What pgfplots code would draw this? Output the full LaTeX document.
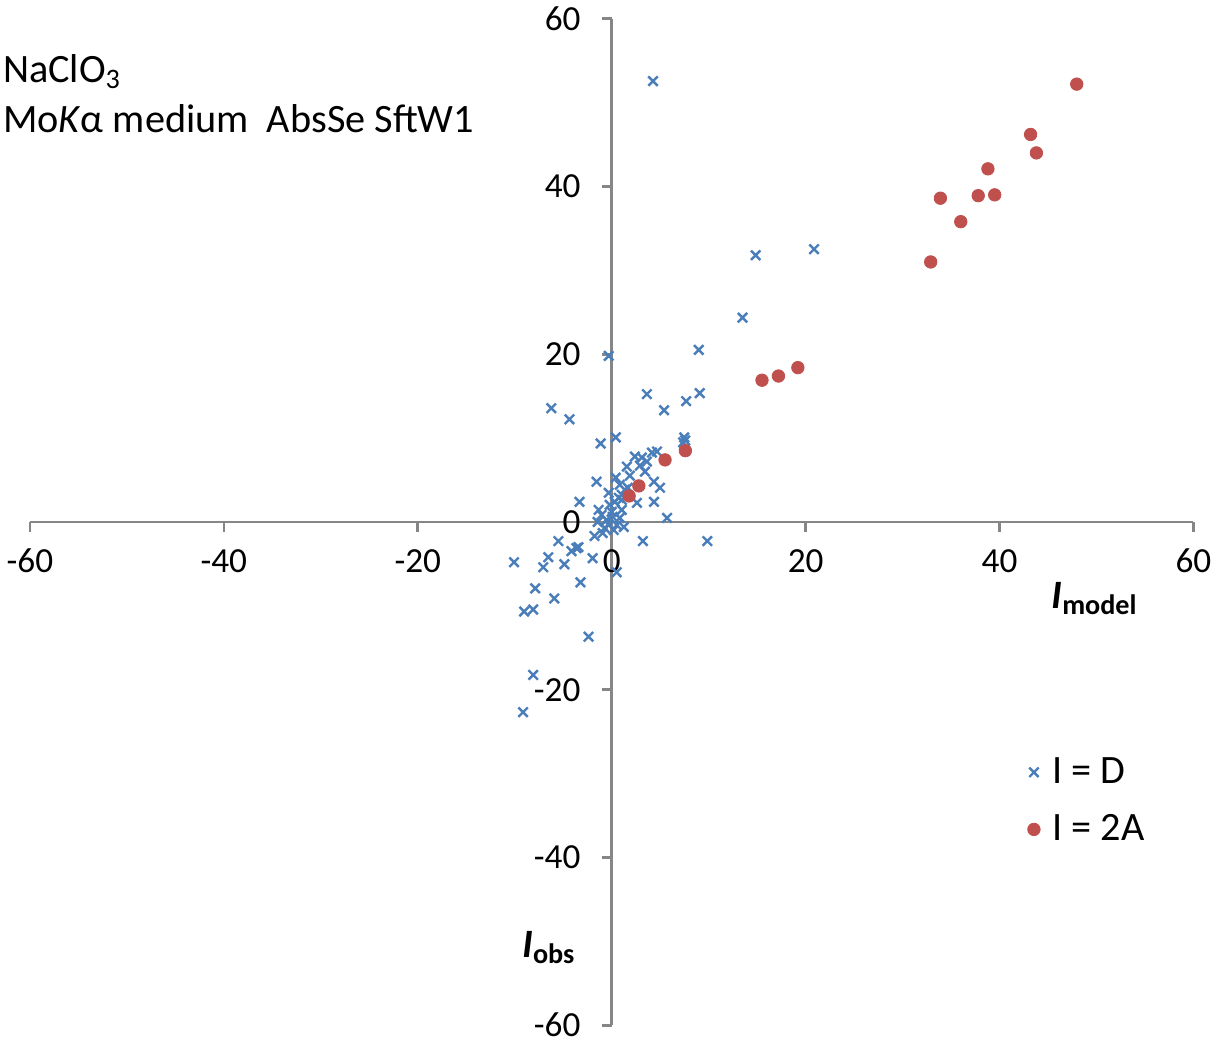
\documentclass[border=0pt]{standalone}
\usepackage{fontspec}
\setmainfont{Carlito}
\usepackage{pgfplots}
\pgfplotsset{compat=1.18}
\definecolor{xblue}{RGB}{74,126,187}
\definecolor{xred}{RGB}{192,80,77}
\definecolor{axgray}{RGB}{134,134,134}
\begin{document}
\begin{tikzpicture}
\begin{axis}[
  scale only axis,
  width=578bp, height=500bp,
  xmin=-60, xmax=60, ymin=-60, ymax=60,
  axis lines=center,
  axis line style={-, axgray, line width=1.3bp},
  xtick={-60,-40,-20,0,20,40,60},
  ytick={-60,-40,-20,0,20,40,60},
  hide obscured x ticks=false, hide obscured y ticks=false,
  tick align=outside,
  major tick length=5bp,
  tick style={axgray, line width=1.3bp},
  /pgf/number format/assume math mode=true,
  ticklabel style={font=\fontsize{17.5bp}{19bp}\selectfont},
  xticklabel style={yshift=-5bp},
  yticklabel style={xshift=-7bp},
  xlabel={}, ylabel={},
  legend style={draw=none, fill=none, at={(axis description cs:0.852,0.274)}, anchor=north west,
    font=\fontsize{20bp}{22bp}\selectfont, row sep=10bp, cells={anchor=west},
    nodes={inner xsep=6bp}},
  legend cell align=left,
  clip=false,
]
\addplot[only marks, mark=x, mark size=3.3bp, draw=xblue, mark options={line width=1.2bp}] coordinates {
(4.26,52.56) (20.87,32.52) (14.85,31.80) (13.49,24.36) (8.98,20.52) (-0.31,19.80)
(9.08,15.36) (3.63,15.24) (7.68,14.40) (5.40,13.32) (-6.23,13.56) (-4.36,12.24)
(7.48,10.08) (7.58,9.72) (7.37,9.48) (0.42,10.08) (-1.14,9.36) (4.15,8.28) (4.67,8.40)
(2.39,7.80) (3.11,7.68) (3.63,7.20) (3.43,6.00) (1.56,6.60) (0.42,5.28) (-1.56,4.80)
(4.36,4.80) (4.98,4.08) (-0.31,3.48) (1.04,3.24) (-3.32,2.40) (4.36,2.40) (2.60,2.28)
(0.83,4.44) (1.35,3.84) (0.73,2.88) (1.04,2.64) (5.71,0.48) (3.22,-2.28) (9.86,-2.28)
(-1.77,-1.68) (-1.35,1.44) (-10.07,-4.80) (-6.54,-4.20) (-7.06,-5.40) (-4.88,-5.04)
(-5.50,-2.28) (-4.15,-3.48) (-3.63,-3.12) (-3.43,-3.00) (-1.97,-4.32) (-3.22,-7.20)
(-7.89,-7.92) (-5.92,-9.12) (-9.03,-10.68) (-8.10,-10.44) (-2.39,-13.68) (-8.10,-18.24)
(-9.14,-22.68) (0.52,-6.00) (-1.04,0.84) (-0.52,0.24) (0,1.20) (0.52,-0.36) (-0.73,-0.72)
(0.21,-0.96) (0.83,0.48) (-0.21,2.04) (-1.45,0) (1.04,1.44) (0.31,2.4) (-0.93,-1.32)
(1.25,-0.6) (-0.31,-0.36) (0.1,0.6) (1.87,5.52) (1.66,4.08) (2.91,6.72)
};
\addlegendentry{I = D}
\addplot[only marks, mark=*, mark size=3.1bp, color=xred, mark options={draw=xred, fill=xred}] coordinates {
(47.96,52.2) (43.2,46.2) (43.8,44.0) (38.8,42.1) (33.9,38.6) (37.8,38.9) (39.5,39.0)
(36.0,35.8) (32.9,31.0) (19.2,18.4) (17.2,17.4) (15.5,16.9) (7.6,8.5) (5.5,7.4)
(2.8,4.3) (1.8,3.1)
};
\addlegendentry{I = 2A}
\node[anchor=north west, align=left, inner sep=0pt, font=\fontsize{20bp}{25bp}\selectfont]
  at (axis description cs:-0.0234,0.965) {NaClO\textsubscript{3}\\Mo\textit{K}α medium\ \ AbsSe SftW1};
\node[font=\fontsize{20bp}{22bp}\selectfont] at (axis description cs:0.915,0.424)
  {\textbf{\textit{I}}\textsubscript{\bfseries model}};
\node[font=\fontsize{20bp}{22bp}\selectfont] at (axis description cs:0.446,0.077)
  {\textbf{\textit{I}}\textsubscript{\bfseries obs}};
\end{axis}
\end{tikzpicture}
\end{document}
